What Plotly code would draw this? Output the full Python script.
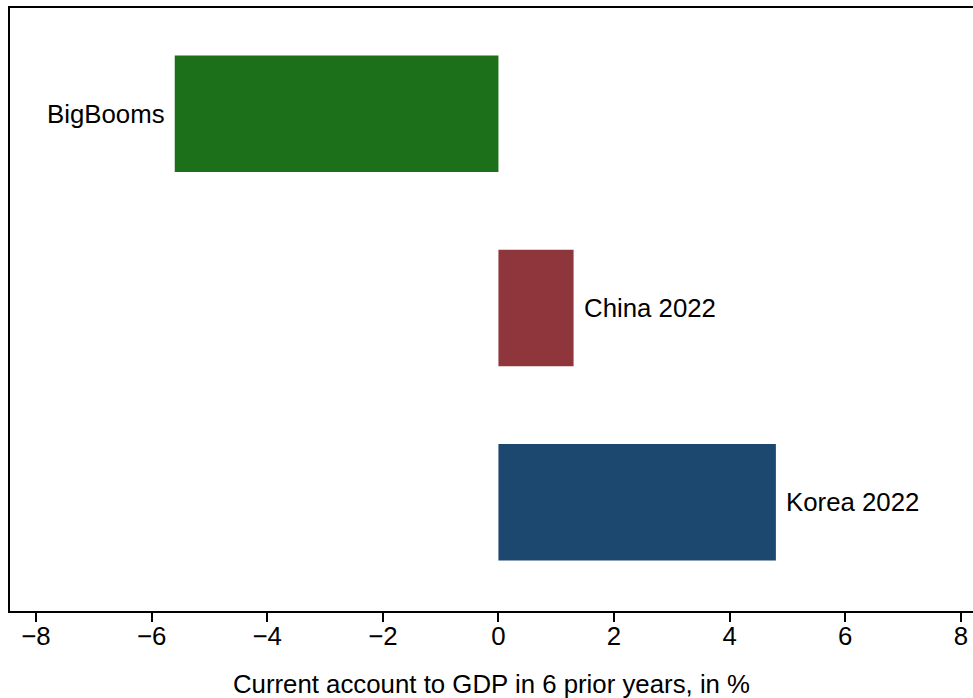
import plotly.graph_objects as go

categories = ["BigBooms", "China 2022", "Korea 2022"]
values = [-5.6, 1.3, 4.8]
colors = ["#1b7019", "#8f363c", "#1c476f"]
tick_vals = [-8, -6, -4, -2, 0, 2, 4, 6, 8]

FONT = "Liberation Sans, Arial, Helvetica, sans-serif"
FS = 25.8

fig = go.Figure()
fig.add_trace(go.Bar(
    x=values, y=categories, orientation="h",
    marker=dict(color=colors, line=dict(width=0)),
    width=0.6, showlegend=False, hoverinfo="skip",
))

for c, v in zip(categories, values):
    fig.add_annotation(
        x=v, y=c, text=c, showarrow=False,
        xanchor="left" if v >= 0 else "right",
        xshift=8 if v >= 0 else -8,
        font=dict(family=FONT, size=FS, color="black"),
    )

fig.update_layout(
    width=973, height=698,
    margin=dict(l=10, r=0, t=8, b=87),
    plot_bgcolor="white", paper_bgcolor="white",
    font=dict(family=FONT, size=FS, color="black"),
    xaxis=dict(
        range=[-8.45, 8.21], tickvals=tick_vals,
        showgrid=False, zeroline=False,
        showline=True, linecolor="black", linewidth=2, mirror=True,
        ticks="outside", ticklen=9, tickwidth=1.5, tickcolor="black",
        ticklabelstandoff=-8,
        tickfont=dict(family=FONT, size=FS),
        title=dict(text="Current account to GDP in 6 prior years, in %",
                   font=dict(family=FONT, size=FS), standoff=30),
    ),
    yaxis=dict(
        categoryorder="array", categoryarray=categories,
        range=[2.56, -0.545],
        showgrid=False, zeroline=False, showticklabels=False,
        showline=True, linecolor="black", linewidth=2, ticks="",
    ),
)

fig.write_html(
    "out.html",
    config={"displayModeBar": False},
    post_script="document.body.style.margin='0';document.body.style.overflow='hidden';",
)
